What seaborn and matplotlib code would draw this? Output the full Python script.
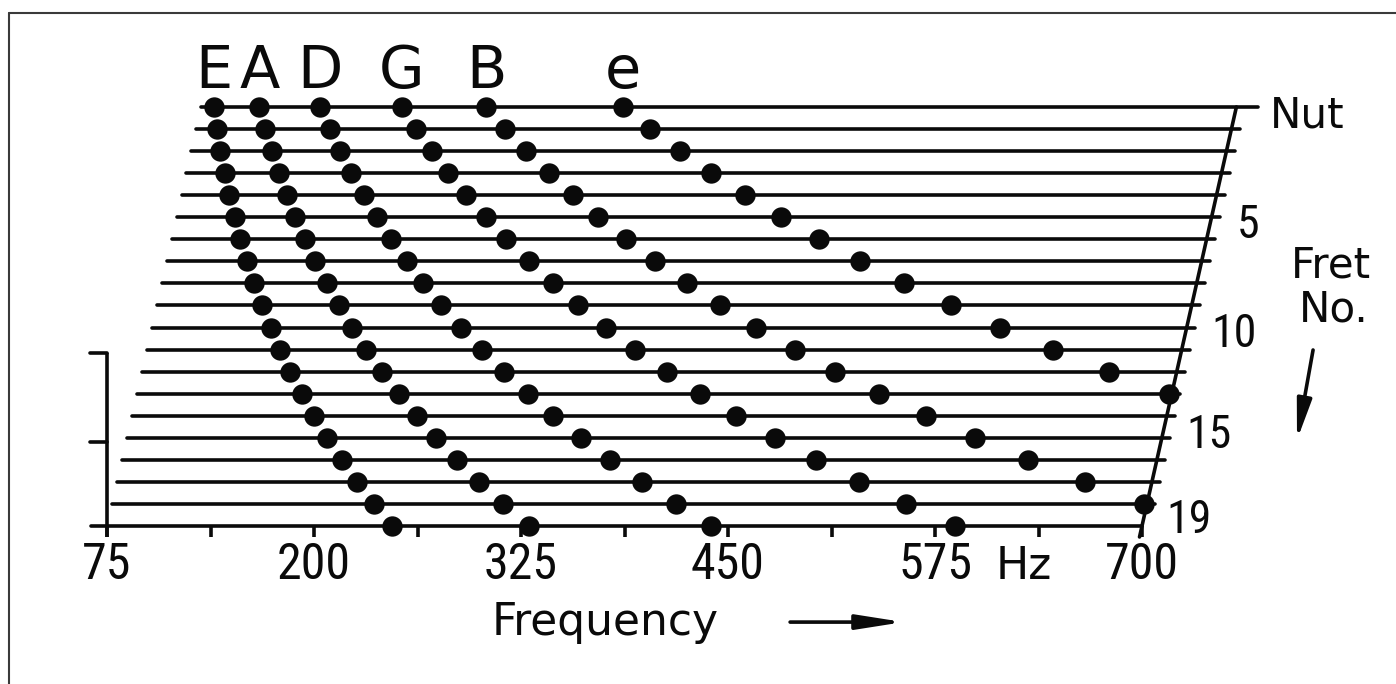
import os
import matplotlib
matplotlib.use("Agg")
import matplotlib.pyplot as plt
from matplotlib import font_manager as fm
from matplotlib.lines import Line2D
import seaborn as sns
import pandas as pd

# ---------------- data (Hz) ----------------
strings = ["E", "A", "D", "G", "B", "e"]
freq_E = [82.4, 87.3, 92.5, 98.0, 103.8, 110.0, 116.5, 123.5, 130.8, 138.6,
          146.8, 155.6, 164.8, 174.6, 185.0, 196.0, 207.7, 220.0, 233.1, 246.9]
freq_A = [110.0, 116.5, 123.5, 130.8, 138.6, 146.8, 155.6, 164.8, 174.6, 185.0,
          196.0, 207.7, 220.0, 233.1, 246.9, 261.6, 277.2, 293.7, 311.1, 329.6]
freq_D = [146.8, 155.6, 164.8, 174.6, 185.0, 196.0, 207.7, 220.0, 233.1, 246.9,
          261.6, 277.2, 293.7, 311.1, 329.6, 349.2, 370.0, 392.0, 415.3, 440.0]
freq_G = [196.0, 207.7, 220.0, 233.1, 246.9, 261.6, 277.2, 293.7, 311.1, 329.6,
          349.2, 370.0, 392.0, 415.3, 440.0, 466.2, 493.9, 523.3, 554.4, 587.3]
freq_B = [246.9, 261.6, 277.2, 293.7, 311.1, 329.6, 349.2, 370.0, 392.0, 415.3,
          440.0, 466.2, 493.9, 523.3, 554.4, 587.3, 622.3, 659.3, 698.5]
freq_e = [329.6, 349.2, 370.0, 392.0, 415.3, 440.0, 466.2, 493.9, 523.3, 554.4,
          587.3, 622.3, 659.3, 698.5]
freq_lists = [freq_E, freq_A, freq_D, freq_G, freq_B, freq_e]

n_frets = 19
x_ticks = [75, 200, 325, 450, 575, 700]
x_minor = [137.5, 262.5, 387.5, 512.5, 637.5]
fret_tick_labels = ["Nut", "5", "10", "15", "19"]
fret_tick_values = [0, 5, 10, 15, 19]

# ---------------- layout constants ----------------
W, H = 1396, 684
PXHZ = 1035 / 625.0          # pixels per Hz
X0PX, F0 = 107, 75           # 75 Hz at pixel 107
ROW0PX, ROWPX = 107, 22.05   # nut row at pixel 107, 22.05 px per fret
SHEAR = 3.0                  # Hz shift per fret row (oblique view)
INK = "#0a0a0a"
LW = 2.6

sns.set_theme(style="white")
plt.rcParams["font.family"] = ["DejaVu Sans"]

# condensed font for the numerals, if one is installed
cond_path = None
cands = []
for f in fm.fontManager.ttflist:
    b = os.path.basename(f.fname).lower()
    if ("condensed" in b or "narrow" in b) and not any(
            w in b for w in ["bold", "italic", "oblique", "light", "thin", "black",
                             "semi", "extra", "medium", "mono", "ultra"]):
        cands.append(f.fname)
for pref in ["roboto", "liberation", "dejavu", "noto", "open"]:
    for c in cands:
        if pref in os.path.basename(c).lower():
            cond_path = c
            break
    if cond_path:
        break

def px2pt(px):
    return px * 72.0 / 100.0

if cond_path:
    def numfont(hpx):
        return fm.FontProperties(fname=cond_path, size=px2pt(hpx / 0.72))
else:
    def numfont(hpx):
        return fm.FontProperties(family="DejaVu Sans", size=px2pt(hpx / 0.86))

def sx(f, k):
    return f + SHEAR * (n_frets - k)

fig = plt.figure(figsize=(W / 100, H / 100), dpi=100)
ax = fig.add_axes([0, 0, 1, 1])
ax.set_xlim(F0 - X0PX / PXHZ, F0 + (W - X0PX) / PXHZ)
ax.set_ylim((H - ROW0PX) / ROWPX, -ROW0PX / ROWPX)
ax.axis("off")

# ---------------- fret rows ----------------
for k in range(n_frets + 1):
    if k == n_frets:
        x_start, x_end = 65.5, 700
    else:
        ext = 13 if k == 0 else 5
        x_start, x_end = sx(75, k), sx(700, k) + ext
    ax.plot([x_start, x_end], [k, k], color=INK, lw=LW, solid_capstyle="round", zorder=2)

# oblique right axis (fret axis)
ax.plot([sx(700, 0), sx(700, 19.5)], [0, 19.5], color=INK, lw=LW,
        solid_capstyle="round", zorder=2)

# bottom frequency ticks
for t in x_ticks + x_minor:
    ax.plot([t, t], [19, 19.5], color=INK, lw=LW, solid_capstyle="butt", zorder=2)

# left bracket
ax.plot([75, 75], [11.16, 19.5], color=INK, lw=LW, solid_capstyle="butt", zorder=2)
for yk in [11.16, 15.19]:
    ax.plot([64.7, 75], [yk, yk], color=INK, lw=LW, solid_capstyle="round", zorder=2)

# ---------------- dots ----------------
rows = []
for name, fr in zip(strings, freq_lists):
    for k, f in enumerate(fr):
        rows.append({"string": name, "fret": k, "freq": f})
df = pd.DataFrame(rows)
df["x"] = df["freq"] + SHEAR * (n_frets - df["fret"])
sns.scatterplot(data=df, x="x", y="fret", ax=ax, color=INK, s=215,
                linewidth=0, legend=False, zorder=3)

# ---------------- text ----------------
for name, fr in zip(strings, freq_lists):
    ax.text(sx(fr[0], 0), -0.86, name, ha="center", va="baseline",
            fontsize=px2pt(59), color=INK)

xt_font = numfont(36)
for t in x_ticks:
    ax.text(t, 21.4, str(t), ha="center", va="baseline", fontproperties=xt_font, color=INK)
ax.text(611.5, 21.4, "Hz", ha="left", va="baseline", fontsize=px2pt(44), color=INK)

ax.text(307.5, 23.95, "Frequency", ha="left", va="baseline", fontsize=px2pt(44), color=INK)
ax.annotate("", xy=(556, 23.36), xytext=(487.5, 23.36),
            arrowprops=dict(arrowstyle="-|>,head_length=1.4,head_width=0.22",
                            mutation_scale=20, color=INK, lw=2.6, shrinkA=0, shrinkB=0))

lab_base = [0.91, 5.94, 10.88, 15.46, 19.32]
yt_font = numfont(33)
for lab, v, yb in zip(fret_tick_labels, fret_tick_values, lab_base):
    if lab == "Nut":
        ax.text(sx(700, v) + 20.5, yb, lab, ha="left", va="baseline",
                fontsize=px2pt(42), color=INK)
    else:
        ax.text(sx(700, v) + 15, yb, lab, ha="left", va="baseline",
                fontproperties=yt_font, color=INK)

ax.text(814, 7.71, "Fret", ha="center", va="baseline", fontsize=px2pt(42), color=INK)
ax.text(816, 9.75, "No.", ha="center", va="baseline", fontsize=px2pt(42), color=INK)
ax.annotate("", xy=(793.6, 15.1), xytext=(803.3, 11.02),
            arrowprops=dict(arrowstyle="-|>,head_length=1.2,head_width=0.22",
                            mutation_scale=20, color=INK, lw=2.6, shrinkA=0, shrinkB=0))

# scan frame (top and left edges)
fig.add_artist(Line2D([9 / W, 1], [1 - 13 / H, 1 - 13 / H], transform=fig.transFigure,
                      color="#3a3a3a", lw=1.5))
fig.add_artist(Line2D([9 / W, 9 / W], [0, 1 - 13 / H], transform=fig.transFigure,
                      color="#3a3a3a", lw=1.5))

fig.savefig("out.png", dpi=100, facecolor="white")
